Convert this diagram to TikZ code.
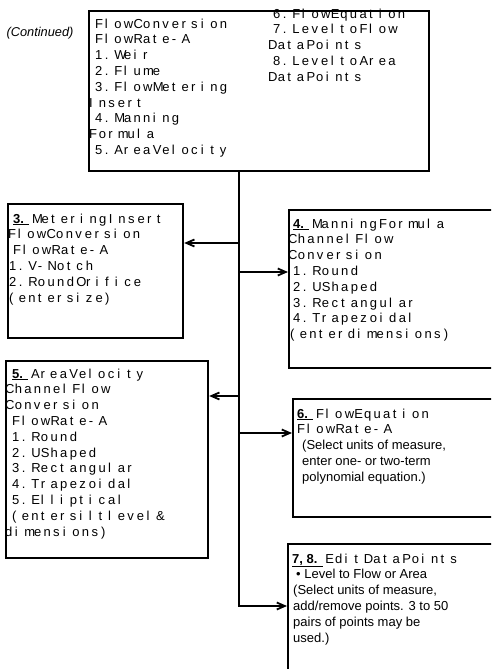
\documentclass[tikz,border=0pt]{standalone}
\usepackage{fontspec}
\setmainfont{Liberation Sans}
\usepackage{tikz}
\usetikzlibrary{arrows.meta}

% fixed pitch cells for the screen text
\newlength\cellw
\setlength\cellw{9.6pt}
\let\monoend\relax
\newcommand\mono[1]{\monostep#1\monoend}
\def\monostep#1{\ifx#1\monoend\else\makebox[\cellw][l]{#1}\expandafter\monostep\fi}
\newcommand\sans[1]{{\fontsize{13}{15.8}\selectfont #1}}
\newcommand\stepno[1]{{\fontsize{13}{15.8}\selectfont\underline{\textbf{#1}\hspace{5pt}}}\hspace{3pt}}

\begin{document}
\begin{tikzpicture}[
    x=1pt, y=-1pt,
    box/.style={draw, line width=2.2pt, inner sep=0, anchor=north west},
    txt/.style={anchor=north west, inner sep=0, align=left,
        font=\fontsize{13}{15.8}\selectfont, execute at begin node=\strut},
    wire/.style={line width=1.8pt},
    >={Straight Barb[length=8pt,width=7pt]}
    ]
    \useasboundingbox (0,0) rectangle (491,669);
    \clip (0,0) rectangle (491,669);
    % Boxes
    \node[box, minimum width=340, minimum height=160] (top) at (88,10) {};
    \node[box, minimum width=175, minimum height=134] (b3) at (7,203) {};
    \node[box, minimum width=215, minimum height=158] (b4) at (288,209) {};
    \node[box, minimum width=202, minimum height=197] (b5) at (5,360) {};
    \node[box, minimum width=210, minimum height=118] (b6) at (292,398) {};
    \node[box, minimum width=215, minimum height=150] (b7) at (287,543) {};
    % Labels
    \node[inner sep=0, font=\itshape\fontsize{12.8}{15}\selectfont] (cont) at (40,33) {(Continued)};
    \node[txt] (toptxt) at (89,18.5) {%
        \hspace*{6pt}\mono{FlowConversion}\\
        \hspace*{6pt}\mono{FlowRate-A}\\
        \hspace*{6pt}\mono{1.Weir}\\
        \hspace*{6pt}\mono{2.Flume}\\
        \hspace*{6pt}\mono{3.FlowMetering}\\
        \mono{Insert}\\
        \hspace*{6pt}\mono{4.Manning}\\
        \mono{Formula}\\
        \hspace*{6pt}\mono{5.AreaVelocity}};
    \node[txt] (toptxt2) at (268,8.5) {%
        \hspace*{5pt}\mono{6.FlowEquation}\\
        \hspace*{5pt}\mono{7.LeveltoFlow}\\
        \mono{DataPoints}\\
        \hspace*{5pt}\mono{8.LeveltoArea}\\
        \mono{DataPoints}};
    \node[txt] (t3) at (8,213.5) {%
        \hspace*{5pt}\stepno{3.}\mono{MeteringInsert}\\
        \mono{FlowConversion}\\
        \hspace*{5pt}\mono{FlowRate-A}\\
        \hspace*{1pt}\mono{1.V-Notch}\\
        \hspace*{1pt}\mono{2.RoundOrifice}\\
        \hspace*{1pt}\mono{(entersize)}};
    \node[txt] (t4) at (288,218.5) {%
        \hspace*{5pt}\stepno{4.}\mono{ManningFormula}\\
        \mono{ChannelFlow}\\
        \mono{Conversion}\\
        \hspace*{5pt}\mono{1.Round}\\
        \hspace*{5pt}\mono{2.UShaped}\\
        \hspace*{5pt}\mono{3.Rectangular}\\
        \hspace*{5pt}\mono{4.Trapezoidal}\\
        \hspace*{2pt}\mono{(enterdimensions)}};
    \node[txt] (t5) at (5,368.5) {%
        \hspace*{7pt}\stepno{5.}\mono{AreaVelocity}\\
        \mono{ChannelFlow}\\
        \mono{Conversion}\\
        \hspace*{7pt}\mono{FlowRate-A}\\
        \hspace*{7pt}\mono{1.Round}\\
        \hspace*{7pt}\mono{2.UShaped}\\
        \hspace*{7pt}\mono{3.Rectangular}\\
        \hspace*{7pt}\mono{4.Trapezoidal}\\
        \hspace*{7pt}\mono{5.Elliptical}\\
        \hspace*{7pt}\mono{(entersiltlevel\&}\\
        \mono{dimensions)}};
    \node[txt] (t6) at (292,408.5) {%
        \hspace*{5pt}\stepno{6.}\mono{FlowEquation}\\
        \hspace*{5pt}\mono{FlowRate-A}\\
        \hspace*{10pt}\sans{(Select units of measure,}\\
        \hspace*{10pt}\sans{enter one- or two-term}\\
        \hspace*{10pt}\sans{polynomial equation.)}};
    \node[txt] (t7) at (287,553.5) {%
        \hspace*{5pt}\stepno{7, 8.}\mono{EditDataPoints}\\
        \hspace*{9pt}\sans{\textbullet\ Level to Flow or Area}\\
        \hspace*{6pt}\sans{(Select units of measure,}\\
        \hspace*{6pt}\sans{add/remove points. 3 to 50}\\
        \hspace*{6pt}\sans{pairs of points may be}\\
        \hspace*{6pt}\sans{used.)}};
    % Lines
    \coordinate (j3) at (239,243);
    \coordinate (j4) at (239,272);
    \coordinate (j5) at (239,396);
    \coordinate (j6) at (239,433);
    \coordinate (j7) at (239,606);
    \draw[wire, ->] (top.south -| j7) -- (j7) -- (j7 -| b7.west);
    \draw[wire, ->] (j3) -- (j3 -| b3.east);
    \draw[wire, ->] (j4) -- (j4 -| b4.west);
    \draw[wire, ->] (j5) -- (j5 -| b5.east);
    \draw[wire, ->] (j6) -- (j6 -| b6.west);
\end{tikzpicture}
\end{document}
